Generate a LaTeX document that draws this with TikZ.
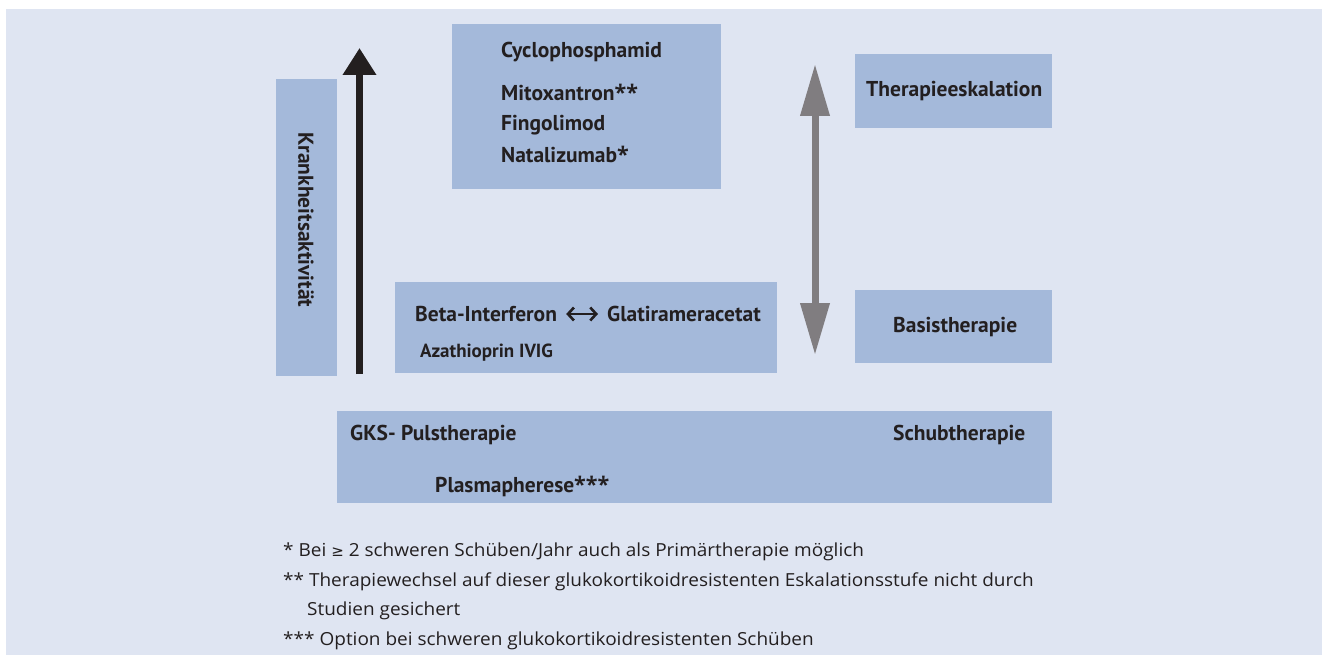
\documentclass[tikz,border=0pt]{standalone}
\usepackage{fontspec}
\setmainfont{PT Sans}
\newfontfamily\djv{DejaVu Sans}
\newfontfamily\footf[FakeStretch=1.055]{Open Sans}
\newfontfamily\astf{Open Sans}
\newcommand{\starmark}[1]{{\astf\bfseries #1}}
\usetikzlibrary{arrows.meta,calc}
\definecolor{bgblue}{HTML}{DFE5F2}
\definecolor{boxblue}{HTML}{A4B9DA}
\definecolor{ink}{HTML}{231F20}
\definecolor{arrgray}{HTML}{807D80}
\begin{document}
\begin{tikzpicture}[x=1pt,y=-1pt,
  box/.style={fill=boxblue, draw=none, inner sep=0, anchor=north west},
  lbl/.style={inner sep=0, anchor=base west, text=ink, font=\bfseries\fontsize{21.5}{24}\selectfont},
  smalllbl/.style={lbl, font=\bfseries\fontsize{19}{22}\selectfont},
  foot/.style={inner sep=0, anchor=base west, text=ink, font=\footf\fontsize{18}{22}\selectfont}]
\useasboundingbox (0,0) rectangle (1324,655);
\fill[white] (0,0) rectangle (1324,655);
\fill[bgblue] (6,9) rectangle (1322,655);
% boxes
\node[box, minimum width=61pt, minimum height=297pt] (kbox) at (276,79) {};
\node[box, minimum width=269pt, minimum height=165pt] (eskbox) at (452,24) {};
\node[box, minimum width=382pt, minimum height=91pt] (basbox) at (395,282) {};
\node[box, minimum width=197pt, minimum height=74pt] (tesk) at (855,54) {};
\node[box, minimum width=197pt, minimum height=73pt] (tbas) at (855,290) {};
\node[box, minimum width=715pt, minimum height=92pt] (schub) at (337,411) {};
% labels
\node[lbl, rotate=-90, anchor=center] (kakt) at (306,220) {Krankheitsaktivität};
\node[lbl] (cyc) at (501,58) {Cyclophosphamid};
\node[lbl] (mito) at (501,101) {Mitoxantron\starmark{**}};
\node[lbl] (fingo) at (501,131) {Fingolimod};
\node[lbl] (nata) at (501,163) {Natalizumab\starmark{*}};
\node[lbl] (beta) at (415,321) {Beta-Interferon};
\node[lbl] (glat) at (607,321) {Glatirameracetat};
\node[smalllbl] (aza) at (420,357) {Azathioprin IVIG};
\node[lbl] (eskl) at (866,97) {Therapieeskalation};
\node[lbl] (basl) at (893,332) {Basistherapie};
\node[lbl] (gks) at (350,440) {GKS- Pulstherapie};
\node[lbl] (plasma) at (435,492) {Plasmapherese\starmark{***}};
\node[lbl] (schubl) at (893,440) {Schubtherapie};
% footnotes
\node[foot] (f1) at (283,556) {* Bei {\djv\fontsize{15}{18}\selectfont ≥} 2 schweren Schüben/Jahr auch als Primärtherapie möglich};
\node[foot] (f2) at (283,586) {** Therapiewechsel auf dieser glukokortikoidresistenten Eskalationsstufe nicht durch};
\node[foot] (f3) at (307,615) {Studien gesichert};
\node[foot] (f4) at (283,645) {*** Option bei schweren glukokortikoidresistenten Schüben};
% arrows
\coordinate (kaBot) at (359.5,374);
\coordinate (kaTop) at (359.5,48);
\draw[ink, line width=7.5pt, -{Triangle[width=32pt,length=27pt]}] (kaBot) -- (kaTop);
\coordinate (gaTop) at (815,64);
\coordinate (gaBot) at (815,355);
\draw[arrgray, line width=7pt, {Triangle[width=28pt,length=52pt]}-{Triangle[width=28pt,length=52pt]}] (gaTop) -- (gaBot);
\draw[ink, line width=2.6pt, {Straight Barb[length=6pt,width=13pt]}-{Straight Barb[length=6pt,width=13pt]}]
  ($(beta.base east)+(9,-7)$) -- ($(glat.base west)+(-9,-7)$);
\end{tikzpicture}
\end{document}
